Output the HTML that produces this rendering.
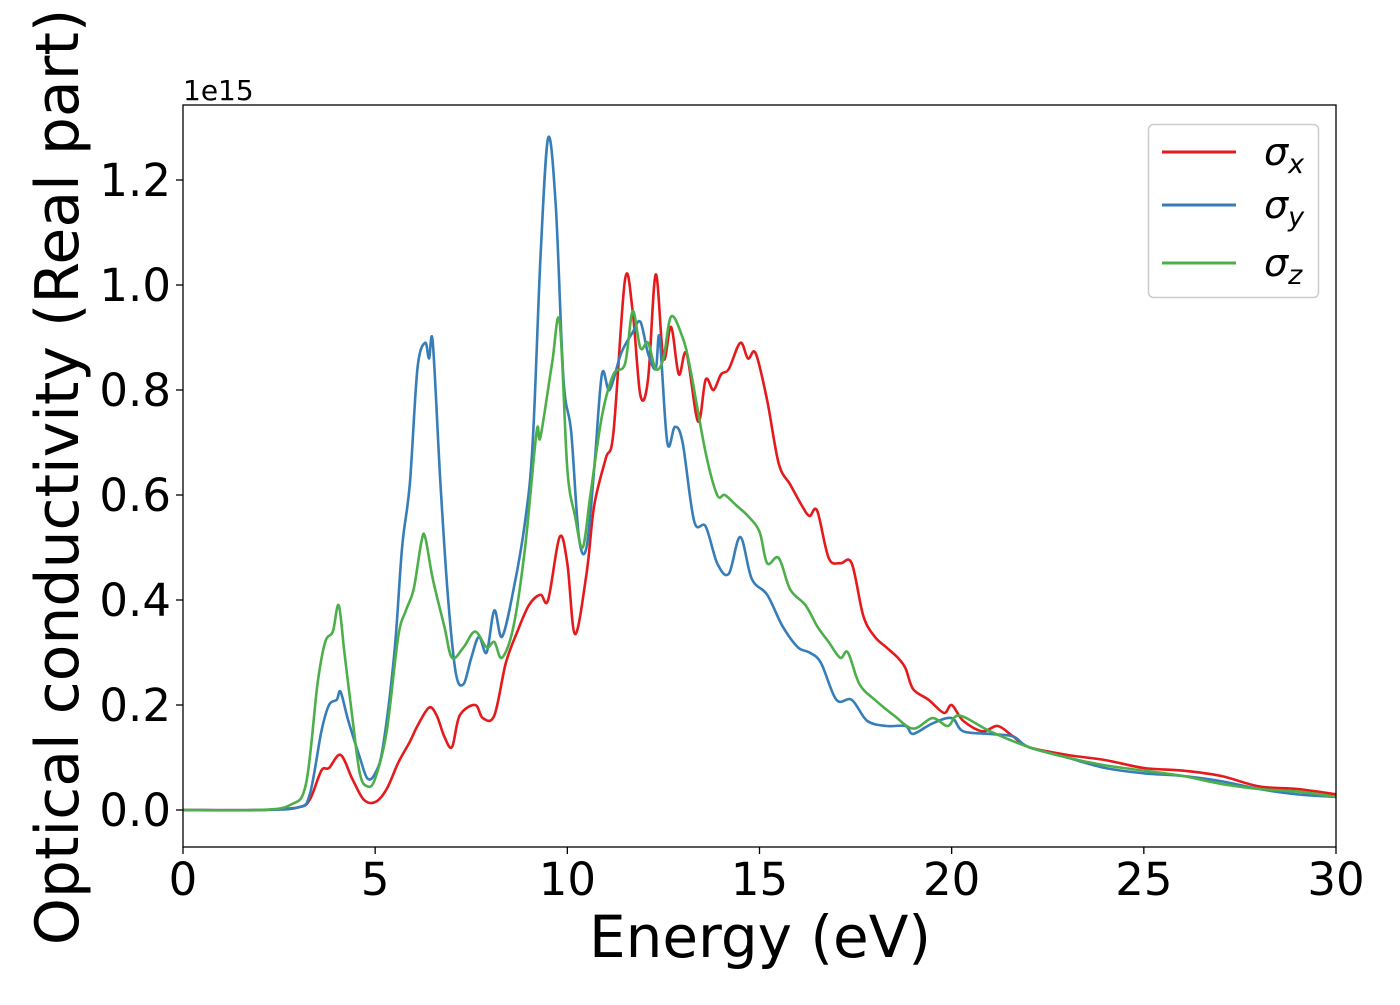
<!DOCTYPE html>
<html><head><meta charset="utf-8"><style>
body{margin:0;background:#fff;}
svg text{font-family:"DejaVu Sans","Liberation Sans",sans-serif;}
</style></head><body>
<svg id="chart" width="1400" height="1000" viewBox="0 0 1400 1000">
<rect x="0" y="0" width="1400" height="1000" fill="#fff"/>
<g id="plot"></g>
<g id="axes"></g>
<text x="183" y="100" font-size="28">1e15</text>
<text x="760" y="957" font-size="58" text-anchor="middle">Energy (eV)</text>
<text transform="translate(78,477) rotate(-90)" font-size="60" text-anchor="middle">Optical conductivity (Real part)</text>
<g>
<rect x="1148.5" y="124.5" width="170" height="173" rx="5" fill="#fff" stroke="#ccc" stroke-width="1.5"/>
<line x1="1162" y1="152" x2="1236" y2="152" stroke="#e41a1c" stroke-width="3"/>
<line x1="1162" y1="205" x2="1236" y2="205" stroke="#377eb8" stroke-width="3"/>
<line x1="1162" y1="263" x2="1236" y2="263" stroke="#4daf4a" stroke-width="3"/>
<text x="1264" y="165" font-size="38" font-style="italic">σ<tspan font-size="27" dy="8">x</tspan></text>
<text x="1264" y="218" font-size="38" font-style="italic">σ<tspan font-size="27" dy="8">y</tspan></text>
<text x="1264" y="276" font-size="38" font-style="italic">σ<tspan font-size="27" dy="8">z</tspan></text>
</g>
</svg>
<script>
const xTicks=[0,5,10,15,20,25,30];
const yTicks=[0,0.2,0.4,0.6,0.8,1.0,1.2];
const yTickLabels=["0.0","0.2","0.4","0.6","0.8","1.0","1.2"];
const eX=[0,2,3,3.3,3.6,3.8,4.1,4.4,4.7,5.0,5.3,5.6,5.9,6.1,6.4,6.6,6.8,7.0,7.2,7.6,7.8,8.1,8.4,8.7,9.0,9.3,9.5,9.8,10.0,10.2,10.5,10.7,11.0,11.2,11.5,11.7,11.9,12.1,12.3,12.5,12.7,12.9,13.1,13.4,13.6,13.8,14.0,14.2,14.5,14.7,14.9,15.2,15.5,15.8,16.1,16.3,16.5,16.8,17.1,17.4,17.7,18.0,18.3,18.6,18.8,19.0,19.4,19.8,20.0,20.3,20.8,21.2,21.6,22,23,24,25,26,27,28,29,30];
const sigmaX=[0,0,0.005,0.02,0.075,0.08,0.105,0.06,0.02,0.015,0.04,0.09,0.13,0.16,0.195,0.18,0.14,0.12,0.18,0.2,0.175,0.18,0.28,0.34,0.39,0.41,0.4,0.52,0.47,0.335,0.45,0.58,0.67,0.72,1.01,0.95,0.79,0.82,1.02,0.86,0.92,0.83,0.87,0.74,0.82,0.8,0.83,0.84,0.89,0.86,0.87,0.78,0.66,0.62,0.58,0.56,0.57,0.48,0.47,0.47,0.37,0.33,0.31,0.29,0.27,0.23,0.21,0.185,0.2,0.17,0.15,0.16,0.14,0.12,0.105,0.095,0.08,0.075,0.065,0.045,0.04,0.03];
const eY=[0,2,3,3.3,3.6,3.8,4.0,4.1,4.3,4.6,4.8,5.0,5.2,5.5,5.7,5.9,6.1,6.3,6.4,6.5,6.7,6.9,7.1,7.3,7.5,7.7,7.9,8.1,8.3,8.6,8.9,9.1,9.3,9.5,9.7,9.9,10.1,10.3,10.5,10.7,10.9,11.1,11.4,11.7,11.9,12.1,12.3,12.4,12.6,12.8,13.0,13.3,13.6,13.9,14.2,14.5,14.8,15.2,15.6,16.0,16.3,16.6,17.0,17.4,17.8,18.3,18.8,19.0,19.5,20.0,20.3,21,21.6,22,23,24,25,26,27,28,29,30];
const sigmaY=[0,0,0.005,0.03,0.15,0.2,0.21,0.225,0.17,0.1,0.06,0.07,0.12,0.3,0.5,0.62,0.84,0.89,0.86,0.89,0.62,0.4,0.26,0.24,0.29,0.33,0.3,0.38,0.33,0.42,0.55,0.7,1.05,1.28,1.15,0.82,0.72,0.52,0.5,0.65,0.83,0.8,0.87,0.91,0.93,0.87,0.84,0.9,0.7,0.73,0.7,0.55,0.54,0.47,0.45,0.52,0.44,0.41,0.35,0.31,0.3,0.28,0.21,0.21,0.17,0.16,0.16,0.145,0.165,0.175,0.15,0.145,0.14,0.12,0.1,0.08,0.07,0.065,0.055,0.04,0.03,0.025];
const eZ=[0,2,2.8,3.2,3.5,3.7,3.9,4.05,4.2,4.4,4.6,4.8,5.0,5.3,5.6,5.8,6.0,6.2,6.3,6.5,6.8,7.0,7.3,7.6,7.9,8.1,8.3,8.6,8.9,9.2,9.3,9.6,9.8,10.0,10.2,10.4,10.6,10.9,11.2,11.5,11.7,11.9,12.1,12.3,12.5,12.7,13.0,13.2,13.6,13.9,14.1,14.4,14.7,15.0,15.2,15.5,15.8,16.2,16.5,16.8,17.1,17.3,17.6,18.0,18.5,19.0,19.5,19.9,20.2,21,22,23,24,25,26,27,28,29,30];
const sigmaZ=[0,0,0.01,0.05,0.24,0.32,0.34,0.39,0.3,0.18,0.07,0.045,0.06,0.15,0.33,0.38,0.42,0.51,0.52,0.44,0.35,0.29,0.31,0.34,0.31,0.32,0.29,0.35,0.5,0.72,0.71,0.85,0.93,0.65,0.56,0.5,0.6,0.75,0.83,0.85,0.95,0.88,0.89,0.84,0.86,0.94,0.9,0.84,0.68,0.6,0.6,0.58,0.56,0.53,0.47,0.48,0.42,0.39,0.35,0.32,0.29,0.3,0.24,0.21,0.18,0.155,0.175,0.16,0.18,0.15,0.12,0.1,0.085,0.075,0.065,0.05,0.04,0.035,0.025];

const NS='http://www.w3.org/2000/svg';
const X0=183,X1=1336,YT=105,YB=847;
const xs=e=>X0+(e/30)*(X1-X0);
const ys=v=>810-v*525;
const plot=document.getElementById('plot'),axes=document.getElementById('axes');
function mk(tag,attrs,parent){const el=document.createElementNS(NS,tag);for(const k in attrs)el.setAttribute(k,attrs[k]);parent.appendChild(el);return el;}
function smoothPath(xa,ya){
  const p=xa.map((e,i)=>[xs(e),ys(ya[i])]);
  let d='M'+p[0][0].toFixed(1)+','+p[0][1].toFixed(1);
  for(let i=0;i<p.length-1;i++){
    const p0=p[Math.max(0,i-1)],p1=p[i],p2=p[i+1],p3=p[Math.min(p.length-1,i+2)];
    const c1=[p1[0]+(p2[0]-p0[0])/6,p1[1]+(p2[1]-p0[1])/6];
    const c2=[p2[0]-(p3[0]-p1[0])/6,p2[1]-(p3[1]-p1[1])/6];
    d+=' C'+c1.map(v=>v.toFixed(1))+' '+c2.map(v=>v.toFixed(1))+' '+p2.map(v=>v.toFixed(1));
  }
  return d;
}
const cp=mk('clipPath',{id:'clip'},plot);
mk('rect',{x:X0,y:YT,width:X1-X0,height:YB-YT},cp);
const series=[[eX,sigmaX,'#e41a1c','sigma-x-line'],[eY,sigmaY,'#377eb8','sigma-y-line'],[eZ,sigmaZ,'#4daf4a','sigma-z-line']];
series.forEach(s=>{
  const path=mk('path',{d:smoothPath(s[0],s[1]),fill:'none',stroke:s[2],'stroke-width':2.6,'clip-path':'url(#clip)','stroke-linejoin':'round'},plot);
  
  
});
const frame=mk('rect',{x:X0,y:YT,width:X1-X0,height:YB-YT,fill:'none',stroke:'#000','stroke-width':1.3},axes);


xTicks.forEach(t=>{
  const x=xs(t);
  const tk=mk('line',{x1:x,y1:YB,x2:x,y2:YB+7,stroke:'#000','stroke-width':1.3},axes);
  
  
  const tx=mk('text',{x:x,y:YB+48,'font-size':45,'text-anchor':'middle'},axes);
  tx.textContent=t;
  
  
});
yTicks.forEach((t,i)=>{
  const y=ys(t);
  const tk=mk('line',{x1:X0-7,y1:y,x2:X0,y2:y,stroke:'#000','stroke-width':1.3},axes);
  
  
  const tx=mk('text',{x:X0-12,y:y+16,'font-size':45,'text-anchor':'end'},axes);
  tx.textContent=yTickLabels[i];
  
  
});
</script>
</body></html>
